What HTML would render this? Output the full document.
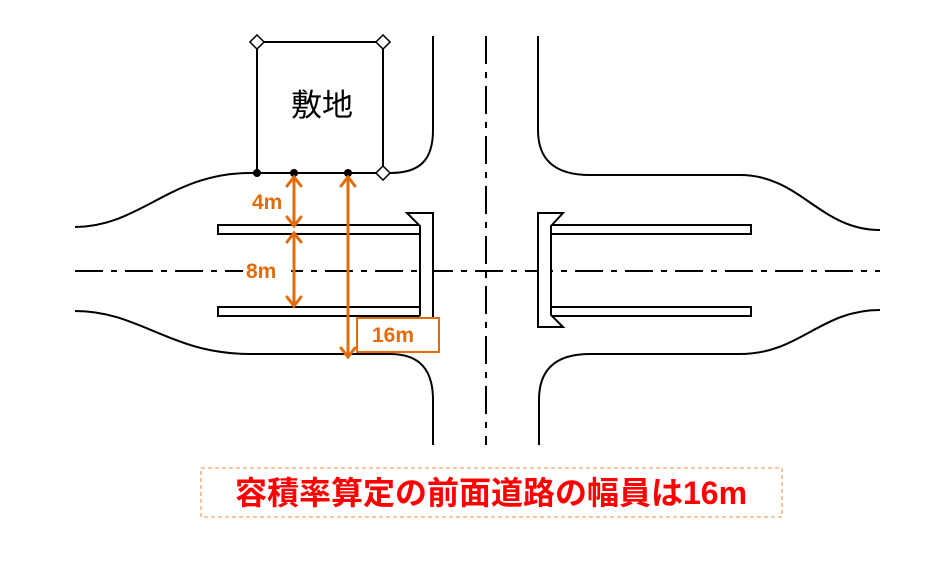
<!DOCTYPE html>
<html><head><meta charset="utf-8"><style>
html,body{margin:0;padding:0;background:#fff;}
svg{display:block}
</style></head><body>
<svg width="941" height="574" viewBox="0 0 941 574" xmlns="http://www.w3.org/2000/svg">
<rect width="941" height="574" fill="#fff"/>
<g fill="none" stroke="#000" stroke-width="2">
<path d="M75,227 C140,227 170,173 250,173 L390,173 C420,173 433,160 433,130 L433,36"/>
<path d="M75,311 C140,311 170,354 250,354 L390,354 C420,354 433,370 433,400 L433,445"/>
<path d="M538,36 L538,130 C538,160 555,175 590,175 L740,175 C800,175 820,230 880,230"/>
<path d="M880,310 C820,310 800,354 740,354 L590,354 C555,354 539,370 539,400 L539,445"/>
<path d="M75,271 L880,271" stroke-dasharray="28,8,6,8"/>
<path d="M486,36 L486,445" stroke-dasharray="28,8,6,8"/>
<rect x="218" y="225" width="202" height="9"/>
<rect x="218" y="307" width="202" height="9"/>
<rect x="551" y="225" width="200" height="9"/>
<rect x="551" y="307" width="200" height="9"/>
<path d="M433,213 L407,213 L420,226 L420,315 L407,327 L433,327 Z" fill="#fff"/>
<path d="M538,213 L563,213 L551,226 L551,315 L563,327 L538,327 Z" fill="#fff"/>
<rect x="257" y="42" width="126" height="131" fill="#fff"/>
</g>
<g fill="#fff" stroke="#000" stroke-width="1.5">
<rect x="252" y="37" width="10" height="10" transform="rotate(45 257 42)"/>
<rect x="378" y="37" width="10" height="10" transform="rotate(45 383 42)"/>
<rect x="378" y="168" width="10" height="10" transform="rotate(45 383 173)"/>
</g>
<g fill="#000"><circle cx="257" cy="173" r="4"/><circle cx="294" cy="173" r="4"/><circle cx="348" cy="173" r="4"/></g>
<text x="322" y="116" font-family="Liberation Sans, Noto Sans CJK JP, sans-serif" font-size="31" text-anchor="middle">敷地</text>
<rect x="245" y="188" width="48" height="34" fill="#fff"/>
<rect x="243" y="256" width="48" height="30" fill="#fff"/>
<g stroke="#e36c0a" stroke-width="3" fill="none" stroke-linecap="round">
<path d="M294,177 L294,226 M287,186 L294,177 L301,186 M287,217 L294,226 L301,217"/>
<path d="M294,233 L294,306 M287,242 L294,233 L301,242 M287,297 L294,306 L301,297"/>
<path d="M348,177 L348,357 M341,186 L348,177 L355,186 M341,348 L348,357 L355,348"/>
</g>
<g font-family="Liberation Sans, sans-serif" font-weight="bold" font-size="21" fill="#e36c0a">
<text x="252" y="209">4m</text>
<text x="246" y="278">8m</text>
<rect x="357" y="318" width="82" height="34" fill="#fff" stroke="#e36c0a" stroke-width="2"/>
<text x="372" y="342">16m</text>
</g>
<rect x="201" y="468" width="581" height="49" fill="none" stroke="#e36c0a" stroke-width="0.8" stroke-dasharray="4,3"/>
<text x="491" y="504" text-anchor="middle" font-family="Liberation Sans, Noto Sans CJK JP, sans-serif" font-weight="bold" font-size="32" fill="#ff0000">容積率算定の前面道路の幅員は16m</text>
</svg>
</body></html>
